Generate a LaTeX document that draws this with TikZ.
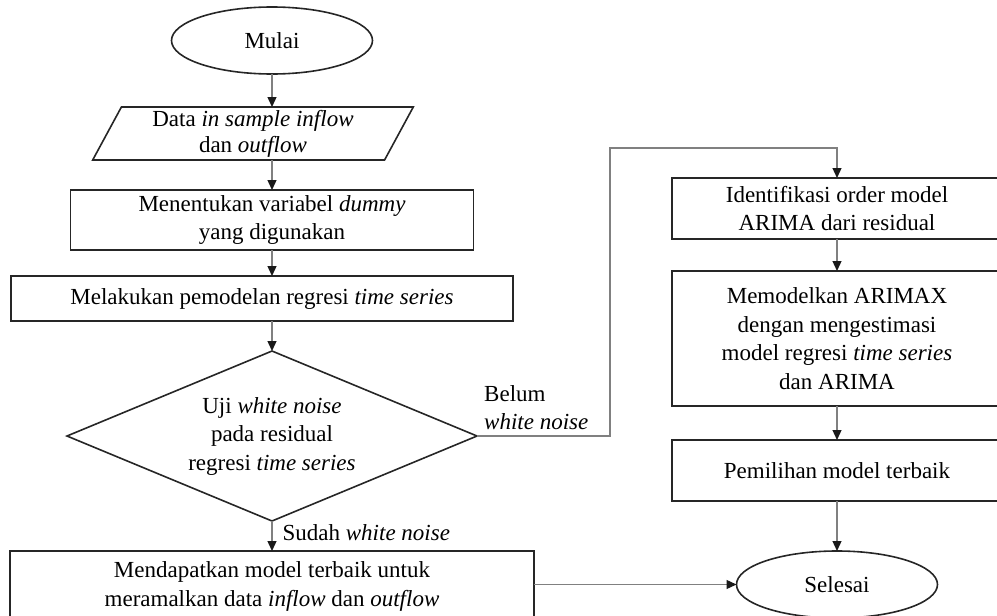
\documentclass[tikz,border=0pt]{standalone}
\usepackage{fontspec}
\setmainfont{Liberation Serif}
\usetikzlibrary{shapes.geometric}
\usetikzlibrary{positioning}
\usetikzlibrary{chains}
\usetikzlibrary{arrows.meta}

\begin{document}
\begin{tikzpicture}[->,
            >={Triangle[length=10pt,width=9pt,color=black!90]},
            x=1pt, y=-1pt,
            node distance = 30pt,
            font=\fontsize{23}{28.5}\selectfont,
            line/.style = {draw=black!50, line width=1.3pt},
            box/.style = {draw=black!85, line width=1.6pt,
                align=center, inner sep=0pt, outer sep=0pt},
            term/.style = {box, ellipse, minimum width=201pt, minimum height=67pt},
            io/.style = {box, trapezium, trapezium left angle=65,
                trapezium right angle=115, trapezium stretches=true,
                minimum width=321pt, minimum height=53pt,
                font=\fontsize{23}{26}\selectfont},
            decision/.style = {box, diamond, aspect=2.4,
                minimum width=410pt, minimum height=170pt},
            lbl/.style = {align=left, inner sep=2pt}]
            \useasboundingbox (0,0) rectangle (997,616);
            % kolom kiri
            \begin{scope}[start chain=kiri going below]
            \node[term, on chain] (mulai) at (272,40.5) {Mulai};
            \node[io, node distance=33pt, on chain, xshift=-19pt] (data)
                {Data \textit{in sample inflow}\\dan \textit{outflow}};
            \node[box, on chain, xshift=19pt, minimum width=403pt, minimum height=60pt] (tentukan)
                {Menentukan variabel \textit{dummy}\\yang digunakan};
            \node[box, node distance=26pt, on chain, xshift=-10pt,
                minimum width=502pt, minimum height=45pt] (lakukan)
                {Melakukan pemodelan regresi \textit{time series}};
            \node[decision, on chain, xshift=10pt] (uji)
                {Uji \textit{white noise}\\pada residual\\regresi \textit{time series}};
            \node[box, on chain, minimum width=524pt, minimum height=71pt] (hasil)
                {Mendapatkan model terbaik untuk\\meramalkan data \textit{inflow} dan \textit{outflow}};
            \end{scope}
            % kolom kanan
            \begin{scope}[start chain=kanan going below, node distance=32pt]
            \node[box, on chain, minimum width=330pt, minimum height=61pt] (ident) at (837,208.5)
                {Identifikasi order model\\ARIMA dari residual};
            \node[box, on chain, minimum width=330pt, minimum height=135pt] (model)
                {Memodelkan ARIMAX\\dengan mengestimasi\\model regresi \textit{time series}\\dan ARIMA};
            \node[box, node distance=34pt, on chain, minimum width=330pt, minimum height=61pt] (pilih)
                {Pemilihan model terbaik};
            \end{scope}
            \node[term, below=50pt of pilih] (selesai) {Selesai};
            \coordinate (belok) at (610,148);
            \node[lbl, anchor=south west] (belum) at ([xshift=5pt,yshift=4pt]uji.east)
                {Belum\\\textit{white noise}};
            \path[every edge/.append style={line}]
                (mulai.south) edge (mulai |- data.north)
                (mulai |- data.south) edge (tentukan.north)
                (tentukan.south) edge (mulai |- lakukan.north)
                (mulai |- lakukan.south) edge (uji.north)
                (uji.south) edge node[lbl, right, pos=0.4, xshift=8pt] {Sudah \textit{white noise}} (hasil.north)
                (hasil.east |- selesai) edge (selesai.west)
                (ident.south) edge (model.north)
                (model.south) edge (pilih.north)
                (pilih.south) edge (selesai.north);
            \draw[line] (uji.east) -| (belok) -| (ident.north);
        \end{tikzpicture}
\end{document}
